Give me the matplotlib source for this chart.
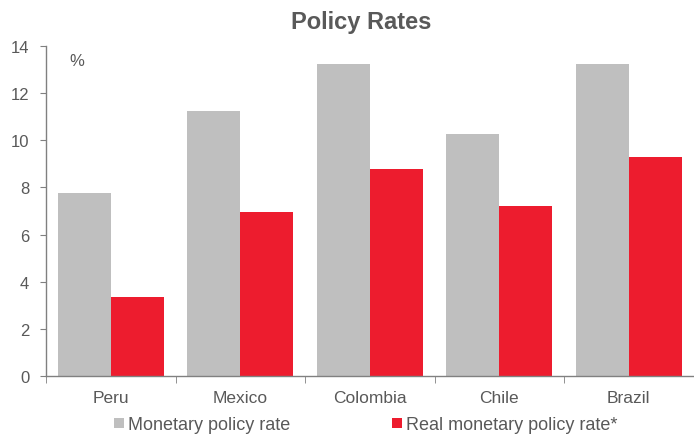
import numpy as np
import matplotlib.pyplot as plt
from matplotlib.ticker import FixedLocator

plt.rcParams['font.family'] = ['Liberation Sans', 'DejaVu Sans']

countries = ['Peru', 'Mexico', 'Colombia', 'Chile', 'Brazil']
policy_rate = [7.75, 11.25, 13.25, 10.25, 13.25]
real_rate = [3.35, 6.95, 8.78, 7.22, 9.28]

grey = '#BFBFBF'
red = '#ED1C2E'
text_col = '#595959'
axis_col = '#808080'

fig = plt.figure(figsize=(6.94, 4.39), dpi=100)
ax = fig.add_axes([0.0663, 0.1412, 0.933, 0.7517])

x = np.arange(len(countries))
w = 0.41
ax.bar(x - w / 2, policy_rate, width=w, color=grey, label='Monetary policy rate')
ax.bar(x + w / 2, real_rate, width=w, color=red, label='Real monetary policy rate*')

ax.set_xlim(-0.5, len(countries) - 0.5)
ax.set_ylim(0, 14)
ax.set_yticks(range(0, 15, 2))
ax.set_xticks(x)
ax.set_xticklabels(countries)
ax.xaxis.set_minor_locator(FixedLocator(np.arange(-0.5, len(countries), 1)))

for s in ['top', 'right']:
    ax.spines[s].set_visible(False)
for s in ['left', 'bottom']:
    ax.spines[s].set_color(axis_col)
    ax.spines[s].set_linewidth(1.0)

ax.tick_params(axis='y', colors=axis_col, labelcolor=text_col, labelsize=12,
               length=4, direction='out', pad=8)
ax.tick_params(axis='x', which='major', length=0, labelcolor=text_col,
               labelsize=12.5, pad=10)
ax.tick_params(axis='x', which='minor', length=5, color=axis_col, direction='out')

ax.text(0.048, 0.955, '%', transform=ax.transAxes, fontsize=12,
        color=text_col, va='center', ha='center')

fig.suptitle('Policy Rates', x=0.52, y=0.975, fontsize=17, fontweight='bold',
             color=text_col)

fig.legend(loc='center', bbox_to_anchor=(0.527, 0.03), ncol=2, frameon=False,
           fontsize=13, handlelength=0.55, handleheight=0.55, handletextpad=0.22,
           columnspacing=5.6, labelcolor=text_col)

fig.savefig('out.png', dpi=100)
